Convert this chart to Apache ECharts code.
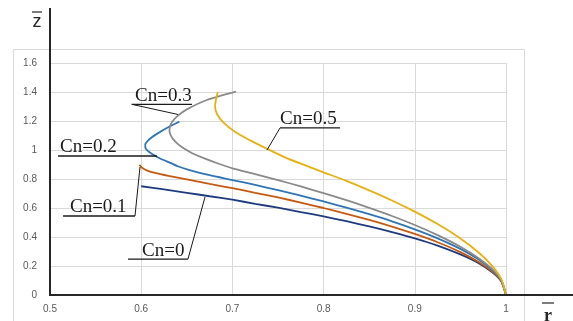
<!DOCTYPE html>
<html>
<head>
<meta charset="utf-8">
<script src="https://cdn.jsdelivr.net/npm/echarts@6/dist/echarts.min.js"></script>
<style>html,body{margin:0;padding:0;background:#fff;}#c{width:573px;height:321px;}</style>
</head>
<body>
<div id="c"></div>
<script>
// ---- data (r, z) ----
const seriesNames = ['Cn=0', 'Cn=0.1', 'Cn=0.2', 'Cn=0.3', 'Cn=0.5'];
const cn0 = [[0.600,0.750],[0.625,0.728],[0.650,0.705],[0.675,0.681],[0.700,0.657],[0.725,0.629],[0.750,0.602],[0.775,0.572],[0.800,0.542],[0.825,0.509],[0.850,0.473],[0.875,0.434],[0.900,0.391],[0.925,0.341],[0.950,0.280],[0.970,0.220],[0.985,0.157],[0.995,0.093],[1.000,0.000]];
const cn01 = [[0.598,0.897],[0.601,0.878],[0.606,0.860],[0.615,0.843],[0.630,0.822],[0.650,0.797],[0.675,0.766],[0.700,0.737],[0.725,0.705],[0.750,0.673],[0.775,0.637],[0.800,0.600],[0.825,0.560],[0.850,0.518],[0.875,0.472],[0.900,0.421],[0.925,0.364],[0.950,0.296],[0.970,0.228],[0.985,0.161],[0.995,0.094],[1.000,0.000]];
const cn02 = [[0.642,1.197],[0.632,1.165],[0.619,1.118],[0.611,1.085],[0.607,1.062],[0.6045,1.040],[0.6045,1.018],[0.607,0.996],[0.612,0.972],[0.619,0.947],[0.628,0.922],[0.640,0.888],[0.653,0.862],[0.675,0.826],[0.700,0.793],[0.725,0.759],[0.750,0.723],[0.775,0.685],[0.800,0.645],[0.825,0.602],[0.850,0.557],[0.875,0.508],[0.900,0.453],[0.925,0.391],[0.950,0.318],[0.970,0.245],[0.985,0.172],[0.995,0.098],[1.000,0.000]];
const cn03 = [[0.704,1.402],[0.672,1.345],[0.650,1.280],[0.640,1.235],[0.634,1.195],[0.6315,1.160],[0.631,1.130],[0.6325,1.100],[0.635,1.075],[0.640,1.042],[0.647,1.010],[0.656,0.978],[0.670,0.940],[0.685,0.905],[0.700,0.874],[0.725,0.834],[0.750,0.792],[0.775,0.749],[0.800,0.702],[0.825,0.654],[0.850,0.601],[0.875,0.545],[0.900,0.483],[0.925,0.413],[0.950,0.333],[0.970,0.254],[0.985,0.178],[0.995,0.102],[1.000,0.000]];
const cn05 = [[0.684,1.400],[0.682,1.350],[0.681,1.300],[0.683,1.250],[0.690,1.190],[0.704,1.120],[0.719,1.068],[0.737,1.011],[0.760,0.942],[0.780,0.894],[0.800,0.846],[0.825,0.787],[0.850,0.722],[0.875,0.652],[0.900,0.575],[0.925,0.489],[0.950,0.390],[0.970,0.293],[0.985,0.199],[0.995,0.107],[1.000,0.000]];
const xTicks = [0.5, 0.6, 0.7, 0.8, 0.9, 1];
const yTicks = [0, 0.2, 0.4, 0.6, 0.8, 1, 1.2, 1.4, 1.6];

// ---- annotation anchors in data units ----
const notes = [
  {text:'Cn=0.3', textR:0.5932, under:[[0.5896,1.315],[0.6557,1.315]], leader:[[0.5896,1.315],[0.6404,1.245]]},
  {text:'Cn=0.2', textR:0.5110, under:[[0.5088,0.9586],[0.6173,0.9586]], leader:null},
  {text:'Cn=0.1', textR:0.5219, under:[[0.5143,0.545],[0.5932,0.545]], leader:[[0.5932,0.545],[0.5987,0.883]]},
  {text:'Cn=0',   textR:0.6009, under:[[0.5855,0.248],[0.6513,0.248]], leader:[[0.6513,0.248],[0.6700,0.676]]},
  {text:'Cn=0.5', textR:0.7522, under:[[0.7522,1.152],[0.8180,1.152]], leader:[[0.7522,1.152],[0.7380,1.000]]}
];

const colors = ['#1f3b7f', '#c55a11', '#2e75b6', '#8a8a8a', '#e8b010'];
const datasets = [cn0, cn01, cn02, cn03, cn05];

const chart = echarts.init(document.getElementById('c'), null, {renderer:'canvas'});
const labelStyle = {color:'#595959', fontSize:10, fontFamily:'Liberation Sans, Arial, sans-serif'};
chart.setOption({
  animation:false,
  backgroundColor:'#fff',
  grid:{left:50, right:67, top:63, bottom:26},
  xAxis:{type:'value', min:xTicks[0], max:xTicks[xTicks.length-1], interval:0.1,
    axisLine:{show:false}, axisTick:{show:false},
    axisLabel:Object.assign({margin:9, formatter:v=>String(+v.toFixed(1))}, labelStyle),
    splitLine:{show:true, lineStyle:{color:'#d9d9d9', width:1}}},
  yAxis:{type:'value', min:yTicks[0], max:yTicks[yTicks.length-1], interval:0.2,
    axisLine:{show:false}, axisTick:{show:false},
    axisLabel:Object.assign({margin:13, formatter:v=>String(+v.toFixed(1))}, labelStyle),
    splitLine:{show:true, lineStyle:{color:'#d9d9d9', width:1}}},
  series: datasets.map((d,i)=>({
    name:seriesNames[i], type:'line', data:d, showSymbol:false, smooth:0.2,
    lineStyle:{color:colors[i], width:1.8}, z:3
  }))
});

function px(p){ return chart.convertToPixel({gridIndex:0}, p); }
const g = [];
// outer chart border
g.push({type:'rect', shape:{x:13.5, y:49.5, width:511, height:290}, style:{fill:null, stroke:'#d9d9d9', lineWidth:1}, z:0, silent:true});
// axis lines
const o = px([xTicks[0], yTicks[0]]);
g.push({type:'line', shape:{x1:o[0], y1:8, x2:o[0], y2:o[1]+1}, style:{stroke:'#262626', lineWidth:2}, z:10});
g.push({type:'line', shape:{x1:o[0]-1, y1:o[1], x2:573, y2:o[1]}, style:{stroke:'#262626', lineWidth:2}, z:10});
// axis titles with overline
g.push({type:'text', style:{text:'z', x:37, y:22, textAlign:'center', textVerticalAlign:'middle', font:'18px "Liberation Sans", Arial, sans-serif', fill:'#262626'}, z:10});
g.push({type:'line', shape:{x1:32, y1:12, x2:42, y2:12}, style:{stroke:'#262626', lineWidth:1.2}, z:10});
g.push({type:'text', style:{text:'r', x:548, y:316, textAlign:'center', textVerticalAlign:'middle', font:'bold 18px "Liberation Serif", "Times New Roman", serif', fill:'#262626'}, z:10});
g.push({type:'line', shape:{x1:542, y1:303, x2:554, y2:303}, style:{stroke:'#262626', lineWidth:1.2}, z:10});
// annotations
notes.forEach(n=>{
  const a = px(n.under[0]), b = px(n.under[1]);
  g.push({type:'line', shape:{x1:a[0], y1:a[1], x2:b[0], y2:b[1]}, style:{stroke:'#1a1a1a', lineWidth:1.3}, z:10});
  if(n.leader){
    const c = px(n.leader[0]), d = px(n.leader[1]);
    g.push({type:'line', shape:{x1:c[0], y1:c[1], x2:d[0], y2:d[1]}, style:{stroke:'#1a1a1a', lineWidth:1}, z:10});
  }
  const t = px([n.textR, n.under[0][1]]);
  g.push({type:'text', style:{text:n.text, x:t[0], y:t[1]+1, textAlign:'left', textVerticalAlign:'bottom', font:'19px "Liberation Serif", "Times New Roman", serif', fill:'#1a1a1a'}, z:10});
});
chart.setOption({graphic:{elements:g}});
</script>
</body>
</html>
